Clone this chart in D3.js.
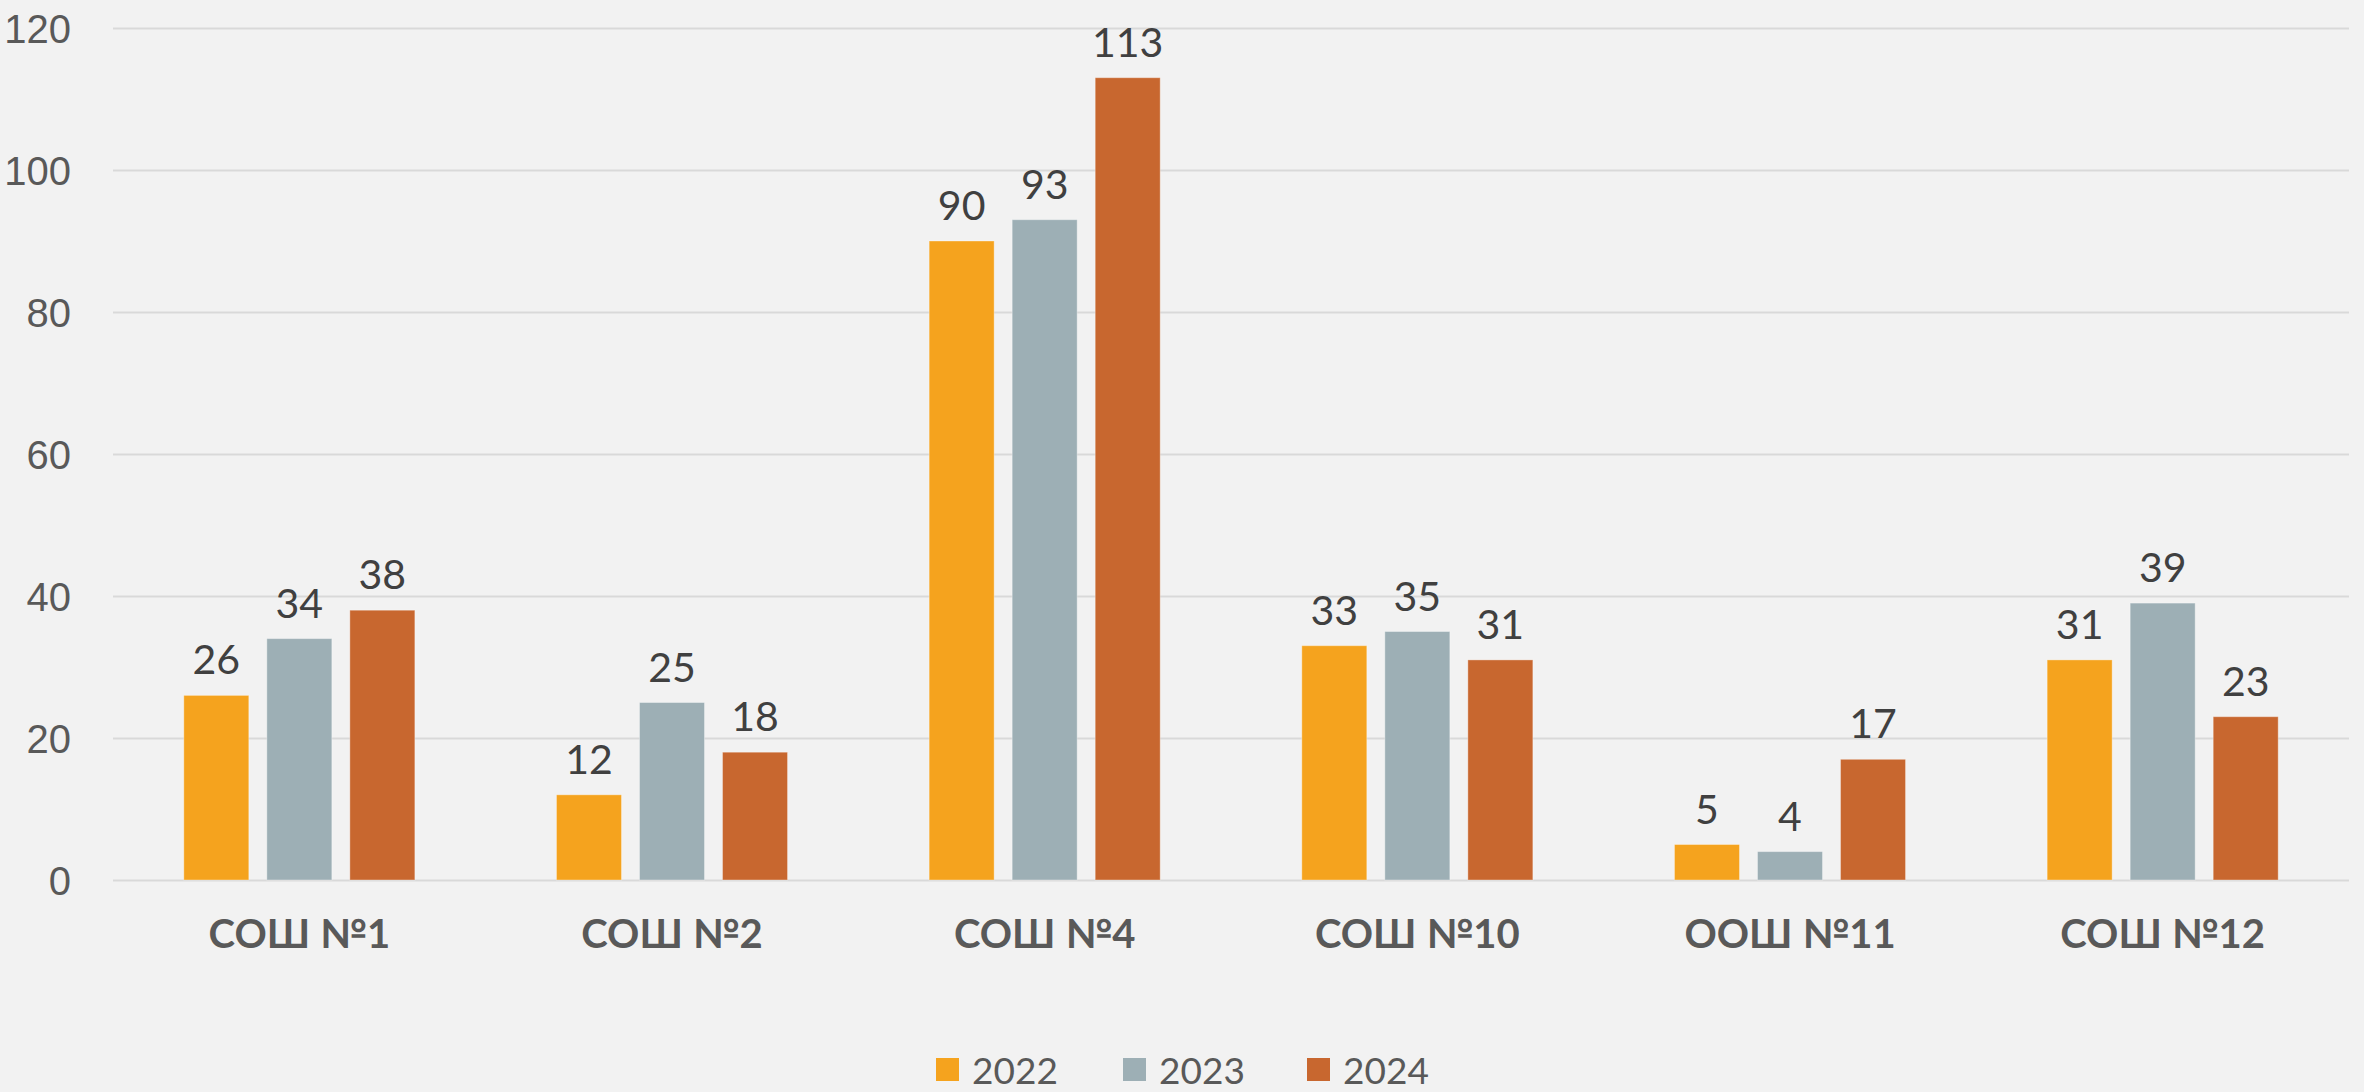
<!DOCTYPE html>
<html>
<head>
<meta charset="utf-8">
<script src="https://cdn.jsdelivr.net/npm/d3@7/dist/d3.min.js"></script>
<style>
  html, body { margin: 0; padding: 0; background: #f2f2f2; overflow: hidden; }
  svg { display: block; }
</style>
</head>
<body>
<svg id="chart"></svg>
<script>
// data
var schools = ["СОШ №1", "СОШ №2", "СОШ №4", "СОШ №10", "ООШ №11", "СОШ №12"];
var years = ["2022", "2023", "2024"];
var v2022 = [26, 12, 90, 33, 5, 31];
var v2023 = [34, 25, 93, 35, 4, 39];
var v2024 = [38, 18, 113, 31, 17, 23];
var yTicks = [0, 20, 40, 60, 80, 100, 120];

var colors = ["#f5a31e", "#9dafb5", "#c8672f"];
var series = [v2022, v2023, v2024];

var width = 2364, height = 1092;
// plot area (don't call it "top", window.top is read-only)
var plotLeft = 113, plotRight = 2349, plotTop = 28, plotBottom = 880;

var svg = d3.select("#chart")
    .attr("width", width)
    .attr("height", height)
    .style("font-family", "Lato, 'Open Sans', sans-serif");

svg.append("rect")
    .attr("width", width)
    .attr("height", height)
    .attr("fill", "#f2f2f2");

var x0 = d3.scaleBand()
    .domain(schools)
    .range([plotLeft, plotRight])
    .paddingInner(0.38)
    .paddingOuter(0.19);

var x1 = d3.scaleBand()
    .domain(years)
    .range([0, x0.bandwidth()])
    .paddingInner(0.217);

var y = d3.scaleLinear()
    .domain([0, 120])
    .range([plotBottom, plotTop]);

// grid + y labels
var yAxis = svg.append("g")
    .attr("transform", "translate(" + plotLeft + ",0)")
    .call(d3.axisLeft(y)
        .tickValues(yTicks)
        .tickSize(-(plotRight - plotLeft))
        .tickPadding(42));

yAxis.select(".domain").remove();
yAxis.selectAll(".tick line")
    .attr("stroke", "#d9d9d9")
    .attr("stroke-width", 2);
yAxis.selectAll(".tick text")
    .attr("fill", "#595959")
    .attr("font-size", 40)
    .attr("dy", "0.36em");

// bars
var rows = [];
schools.forEach(function (s, i) {
    years.forEach(function (yr, j) {
        rows.push({ school: s, year: yr, value: series[j][i], color: colors[j] });
    });
});

var bar = svg.selectAll(".bar")
    .data(rows)
    .enter()
    .append("g")
    .attr("class", "bar");

bar.append("rect")
    .attr("x", function (d) { return x0(d.school) + x1(d.year); })
    .attr("y", function (d) { return y(d.value); })
    .attr("width", x1.bandwidth())
    .attr("height", function (d) { return y(0) - y(d.value); })
    .attr("fill", function (d) { return d.color; })
    .attr("stroke", "#ffffff")
    .attr("stroke-opacity", 0.35)
    .attr("stroke-width", 1);

bar.append("text")
    .attr("x", function (d) { return x0(d.school) + x1(d.year) + x1.bandwidth() / 2; })
    .attr("y", function (d) { return y(d.value) - 21; })
    .attr("text-anchor", "middle")
    .attr("font-size", 41)
    .attr("fill", "#404040")
    .text(function (d) { return d.value; });

// category labels
svg.selectAll(".cat")
    .data(schools)
    .enter()
    .append("text")
    .attr("class", "cat")
    .attr("x", function (d) { return x0(d) + x0.bandwidth() / 2; })
    .attr("y", 948)
    .attr("text-anchor", "middle")
    .attr("font-size", 40)
    .attr("font-weight", "bold")
    .attr("fill", "#595959")
    .text(function (d) { return d; });

// legend
var legendX = [936, 1123, 1307];
var legend = svg.selectAll(".legend")
    .data(years)
    .enter()
    .append("g")
    .attr("class", "legend")
    .attr("transform", function (d, i) { return "translate(" + legendX[i] + ",1058)"; });

legend.append("rect")
    .attr("width", 23)
    .attr("height", 23)
    .attr("fill", function (d, i) { return colors[i]; });

legend.append("text")
    .attr("x", 36)
    .attr("y", 26)
    .attr("font-size", 37)
    .attr("fill", "#595959")
    .text(function (d) { return d; });
</script>
</body>
</html>
